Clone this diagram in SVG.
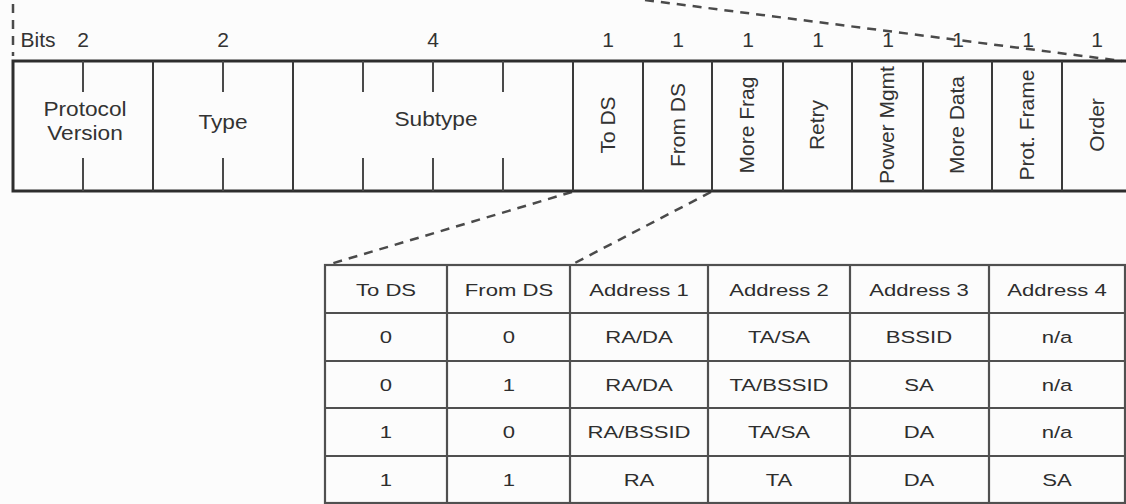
<svg xmlns="http://www.w3.org/2000/svg" width="1126" height="504" viewBox="0 0 1126 504">
<style>
text{font-family:"Liberation Sans",Arial,sans-serif;font-size:21px;fill:#333;text-anchor:middle}
.t text{font-size:17px;fill:#2e2e2e}
.frame{fill:none;stroke:#2e2e2e;stroke-width:3}
.div{stroke:#3a3a3a;stroke-width:2}
.tick{stroke:#4a4a4a;stroke-width:2}
.dash{fill:none;stroke:#4a4a4a;stroke-width:2.5;stroke-dasharray:9 7}
.tbl{stroke:#505050;stroke-width:2.2;fill:none}
</style>
<rect width="1126" height="504" fill="#fcfcfc"/>
<g id="connectors">
<line class="dash" x1="13" y1="4" x2="13" y2="56"/>
<line class="dash" x1="645" y1="0" x2="1122" y2="61"/>
<line class="dash" x1="572" y1="192" x2="327" y2="265"/>
<line class="dash" x1="711" y1="192" x2="571" y2="265"/>
</g>
<g id="bits">
<text x="38" y="47">Bits</text>
<text x="83" y="47">2</text>
<text x="223" y="47">2</text>
<text x="433" y="47">4</text>
<text x="608" y="47">1</text>
<text x="678" y="47">1</text>
<text x="748" y="47">1</text>
<text x="818" y="47">1</text>
<text x="888" y="47">1</text>
<text x="958" y="47">1</text>
<text x="1028" y="47">1</text>
<text x="1097" y="47">1</text>
</g>
<g id="frame">
<path class="frame" d="M1126 61 H13 V191 H1126"/>
</g>
<g id="protocol-version">
<line class="tick" x1="83" y1="61" x2="83" y2="92"/>
<line class="tick" x1="83" y1="158" x2="83" y2="191"/>
<text transform="translate(85 116) scale(1.08 1)">Protocol</text>
<text transform="translate(85 140) scale(1.08 1)">Version</text>
<line class="div" x1="153" y1="61" x2="153" y2="191"/>
</g>
<g id="type">
<line class="tick" x1="223" y1="61" x2="223" y2="92"/>
<line class="tick" x1="223" y1="158" x2="223" y2="191"/>
<text transform="translate(223 129) scale(1.08 1)">Type</text>
<line class="div" x1="293" y1="61" x2="293" y2="191"/>
</g>
<g id="subtype">
<line class="tick" x1="363" y1="61" x2="363" y2="92"/>
<line class="tick" x1="363" y1="158" x2="363" y2="191"/>
<line class="tick" x1="433" y1="61" x2="433" y2="92"/>
<line class="tick" x1="433" y1="158" x2="433" y2="191"/>
<line class="tick" x1="503" y1="61" x2="503" y2="92"/>
<line class="tick" x1="503" y1="158" x2="503" y2="191"/>
<text transform="translate(436 126) scale(1.08 1)">Subtype</text>
<line class="div" x1="573" y1="61" x2="573" y2="191"/>
</g>
<g id="to-ds"><text transform="translate(615 125) rotate(-90)">To DS</text><line class="div" x1="643" y1="61" x2="643" y2="191"/></g>
<g id="from-ds"><text transform="translate(685 125) rotate(-90)">From DS</text><line class="div" x1="712" y1="61" x2="712" y2="191"/></g>
<g id="more-frag"><text transform="translate(754 125) rotate(-90)">More Frag</text><line class="div" x1="783" y1="61" x2="783" y2="191"/></g>
<g id="retry"><text transform="translate(824 125) rotate(-90)">Retry</text><line class="div" x1="852" y1="61" x2="852" y2="191"/></g>
<g id="power-mgmt"><text transform="translate(894 125) rotate(-90)">Power Mgmt</text><line class="div" x1="923" y1="61" x2="923" y2="191"/></g>
<g id="more-data"><text transform="translate(964 125) rotate(-90)">More Data</text><line class="div" x1="992" y1="61" x2="992" y2="191"/></g>
<g id="prot-frame"><text transform="translate(1034 125) rotate(-90)">Prot. Frame</text><line class="div" x1="1062" y1="61" x2="1062" y2="191"/></g>
<g id="order"><text transform="translate(1104 125) rotate(-90)">Order</text></g>
<g id="address-table" class="t">
<rect class="tbl" x="325" y="265" width="800" height="238"/>
<line class="tbl" x1="325" y1="313" x2="1126" y2="313"/>
<line class="tbl" x1="325" y1="361" x2="1126" y2="361"/>
<line class="tbl" x1="325" y1="408" x2="1126" y2="408"/>
<line class="tbl" x1="325" y1="456" x2="1126" y2="456"/>
<line class="tbl" x1="447" y1="265" x2="447" y2="503"/>
<line class="tbl" x1="570" y1="265" x2="570" y2="503"/>
<line class="tbl" x1="708" y1="265" x2="708" y2="503"/>
<line class="tbl" x1="850" y1="265" x2="850" y2="503"/>
<line class="tbl" x1="989" y1="265" x2="989" y2="503"/>
<g>
<text transform="translate(386 296) scale(1.3 1)">To DS</text><text transform="translate(509 296) scale(1.3 1)">From DS</text><text transform="translate(639 296) scale(1.3 1)">Address 1</text><text transform="translate(779 296) scale(1.3 1)">Address 2</text><text transform="translate(919 296) scale(1.3 1)">Address 3</text><text transform="translate(1057 296) scale(1.3 1)">Address 4</text>
</g>
<g>
<text transform="translate(386 343) scale(1.3 1)">0</text><text transform="translate(509 343) scale(1.3 1)">0</text><text transform="translate(639 343) scale(1.3 1)">RA/DA</text><text transform="translate(779 343) scale(1.3 1)">TA/SA</text><text transform="translate(919 343) scale(1.3 1)">BSSID</text><text transform="translate(1057 343) scale(1.3 1)">n/a</text>
</g>
<g>
<text transform="translate(386 391) scale(1.3 1)">0</text><text transform="translate(509 391) scale(1.3 1)">1</text><text transform="translate(639 391) scale(1.3 1)">RA/DA</text><text transform="translate(779 391) scale(1.3 1)">TA/BSSID</text><text transform="translate(919 391) scale(1.3 1)">SA</text><text transform="translate(1057 391) scale(1.3 1)">n/a</text>
</g>
<g>
<text transform="translate(386 438) scale(1.3 1)">1</text><text transform="translate(509 438) scale(1.3 1)">0</text><text transform="translate(639 438) scale(1.3 1)">RA/BSSID</text><text transform="translate(779 438) scale(1.3 1)">TA/SA</text><text transform="translate(919 438) scale(1.3 1)">DA</text><text transform="translate(1057 438) scale(1.3 1)">n/a</text>
</g>
<g>
<text transform="translate(386 486) scale(1.3 1)">1</text><text transform="translate(509 486) scale(1.3 1)">1</text><text transform="translate(639 486) scale(1.3 1)">RA</text><text transform="translate(779 486) scale(1.3 1)">TA</text><text transform="translate(919 486) scale(1.3 1)">DA</text><text transform="translate(1057 486) scale(1.3 1)">SA</text>
</g>
</g>
</svg>
